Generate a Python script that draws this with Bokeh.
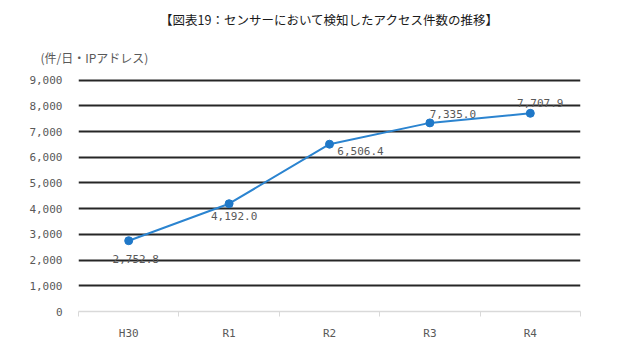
from bokeh.plotting import figure
from bokeh.models import (ColumnDataSource, FixedTicker, LabelSet, Range1d, Title,
                          NumeralTickFormatter)
from bokeh.core.properties import value
from bokeh.embed import file_html
from bokeh.resources import INLINE

categories = ["H30", "R1", "R2", "R3", "R4"]
values = [2752.8, 4192.0, 6506.4, 7335.0, 7707.9]
y_ticks = [0, 1000, 2000, 3000, 4000, 5000, 6000, 7000, 8000, 9000]
title_text = "【図表19：センサーにおいて検知したアクセス件数の推移】"
unit_text = "(件/日・IPアドレス)"

# label placement (style)
label_dx = [7, 5, 31, 23, 10]
label_dy = [-18, -12, -7, 9, 10]

FONT = "Noto Sans CJK JP"
NUMFONT = "DejaVu Sans Mono"
GREY = "#595959"

xs = [i + 0.5 for i in range(len(categories))]
src = ColumnDataSource(dict(
    x=xs, y=values,
    txt=[f"{v:,.1f}" for v in values],
    dx=label_dx, dy=label_dy,
))

p = figure(width=621, height=357, output_backend="svg", toolbar_location=None,
           x_range=Range1d(0, len(categories)), y_range=Range1d(0, 9100),
           min_border_left=78, min_border_right=41, min_border_top=10,
           min_border_bottom=46)
p.outline_line_color = None
p.background_fill_color = "white"
p.border_fill_color = "white"

# titles
p.title.text = title_text
p.title.text_font = FONT
p.title.text_font_size = "12.5px"
p.title.text_font_style = "normal"
p.title.text_color = "#1a1a1a"
p.title.align = "center"
p.title.offset = -14
p.title.standoff = 14
p.add_layout(Title(text=unit_text, text_font=FONT, text_font_size="12px",
                   text_font_style="normal", text_color=GREY, align="left",
                   offset=-38, standoff=23), "above")

# grid
p.xgrid.visible = False
p.ygrid.ticker = FixedTicker(ticks=y_ticks[1:])
p.ygrid.grid_line_color = "#262626"
p.ygrid.grid_line_width = 2

# y axis
p.yaxis.ticker = FixedTicker(ticks=y_ticks)
p.yaxis.formatter = NumeralTickFormatter(format="0,0")
p.yaxis.axis_line_color = None
p.yaxis.major_tick_line_color = None
p.yaxis.minor_tick_line_color = None
p.yaxis.major_label_text_font = NUMFONT
p.yaxis.major_label_text_font_size = "11px"
p.yaxis.major_label_text_color = GREY
p.yaxis.major_label_standoff = 10

# x axis
p.xaxis.ticker = FixedTicker(ticks=xs, minor_ticks=list(range(len(categories) + 1)))
p.xaxis.major_label_overrides = {x: c for x, c in zip(xs, categories)}
p.xaxis.axis_line_color = "#d9d9d9"
p.xaxis.axis_line_width = 1.5
p.xaxis.major_tick_line_color = None
p.xaxis.minor_tick_line_color = "#d9d9d9"
p.xaxis.minor_tick_out = 5
p.xaxis.minor_tick_in = 0
p.xaxis.major_label_text_font = NUMFONT
p.xaxis.major_label_text_font_size = "11px"
p.xaxis.major_label_text_color = GREY
p.xaxis.major_label_standoff = 9

# series
p.line("x", "y", source=src, line_color="#2b84d0", line_width=2)
p.scatter("x", "y", source=src, size=8, fill_color="#1f78c8", line_color="#1f78c8")

labels = LabelSet(x="x", y="y", text="txt", source=src, x_offset="dx", y_offset="dy",
                  text_font=value(NUMFONT), text_font_size=value("11px"),
                  text_color=GREY, text_align="center", text_baseline="middle")
p.add_layout(labels)

open("out.html", "w").write(file_html(p, INLINE))
